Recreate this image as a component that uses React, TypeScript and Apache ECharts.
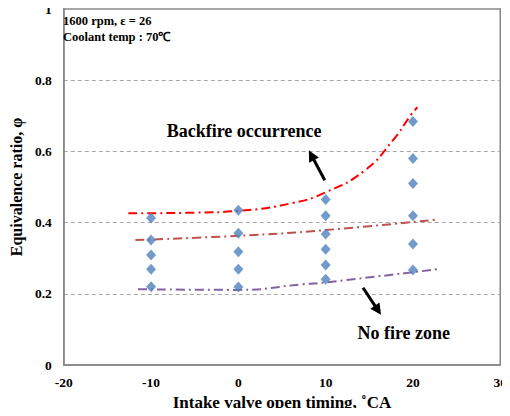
import React, { useEffect, useRef } from "react";
import * as echarts from "echarts";

const xTicks = { min: -20, max: 30, interval: 10 };
const yTicks = { min: 0, max: 1, interval: 0.2 };

const measuredPoints: [number, number][] = [
  [-10, 0.413], [-10, 0.351], [-10, 0.309], [-10, 0.269], [-10, 0.22],
  [0, 0.435], [0, 0.37], [0, 0.318], [0, 0.269], [0, 0.219],
  [10, 0.465], [10, 0.419], [10, 0.368], [10, 0.325], [10, 0.281], [10, 0.241],
  [20, 0.684], [20, 0.58], [20, 0.51], [20, 0.419], [20, 0.34], [20, 0.267],
];

const backfireLimit: [number, number][] = [
  [-12.6, 0.426], [-5, 0.428], [0, 0.433], [6.2, 0.455], [10, 0.485],
  [14.5, 0.547], [17.7, 0.631], [19.7, 0.7], [20.5, 0.724],
];
const middleLimit: [number, number][] = [
  [-11.8, 0.351], [0, 0.363], [10, 0.379], [22.9, 0.409],
];
const noFireLimit: [number, number][] = [
  [-11.5, 0.213], [0, 0.211], [7.5, 0.227], [10, 0.232], [22.8, 0.269],
];

const conditionText = ["1600 rpm, ε = 26", "Coolant temp : 70℃"];
const backfireLabel = { text: "Backfire occurrence", at: [0.65, 0.657] };
const backfireArrow = { from: [9.9, 0.519], to: [8.07, 0.603] };
const noFireLabel = { text: "No fire zone", at: [18.94, 0.091] };
const noFireArrow = { from: [14.28, 0.217], to: [16.34, 0.141] };

const FONT = "Liberation Serif";

function arrowGraphics(p1: number[], p2: number[]) {
  const dx = p2[0] - p1[0];
  const dy = p2[1] - p1[1];
  const len = Math.sqrt(dx * dx + dy * dy);
  const ux = dx / len;
  const uy = dy / len;
  const headLen = 11;
  const headW = 5.5;
  const bx = p2[0] - ux * headLen;
  const by = p2[1] - uy * headLen;
  return [
    {
      type: "line",
      shape: { x1: p1[0], y1: p1[1], x2: bx + ux * 2, y2: by + uy * 2 },
      style: { stroke: "#000", lineWidth: 3 },
      z: 100,
    },
    {
      type: "polygon",
      shape: {
        points: [
          [p2[0], p2[1]],
          [bx - uy * headW, by + ux * headW],
          [bx + uy * headW, by - ux * headW],
        ],
      },
      style: { fill: "#000" },
      z: 100,
    },
  ];
}

export default function App() {
  const ref = useRef<HTMLDivElement>(null);
  useEffect(() => {
    if (!ref.current) return;
    const chart = echarts.init(ref.current, undefined, { renderer: "svg" });
    const lineSeries = (data: [number, number][], color: string) => ({
      type: "line",
      data,
      smooth: true,
      showSymbol: false,
      symbol: "none",
      lineStyle: { color, width: 2, type: [9, 4, 2, 4] },
      z: 2,
    });
    const tickRich = {
      t: { fontFamily: FONT, fontWeight: "bold", fontSize: 13.5, color: "#000" },
    };
    chart.setOption({
      animation: false,
      textStyle: { fontFamily: FONT, fontWeight: "bold", color: "#000" },
      grid: {
        left: 58,
        right: 9,
        top: 9,
        bottom: 51,
        show: true,
        borderColor: "#888",
        borderWidth: 1.5,
      },
      xAxis: {
        type: "value",
        ...xTicks,
        name: "Intake valve open timing, ˚CA",
        nameLocation: "middle",
        nameGap: 28,
        nameTextStyle: { fontFamily: FONT, fontWeight: "bold", fontSize: 17, color: "#000" },
        axisLine: { show: true, onZero: false, lineStyle: { color: "#888", width: 1.5 } },
        axisTick: { show: false },
        splitLine: { show: false },
        axisLabel: {
          margin: 10,
          formatter: (v: number) => `{t|${v}}`,
          rich: tickRich,
        },
      },
      yAxis: {
        type: "value",
        ...yTicks,
        name: "Equivalence ratio, φ",
        nameLocation: "middle",
        nameGap: 36,
        nameTextStyle: { fontFamily: FONT, fontWeight: "bold", fontSize: 16, color: "#000" },
        axisLine: { show: true, onZero: false, lineStyle: { color: "#888", width: 1.5 } },
        axisTick: { show: false },
        splitLine: {
          show: true,
          showMinLine: false,
          showMaxLine: false,
          lineStyle: { color: "#a6a6a6", type: [4, 3], width: 1 },
        },
        axisLabel: {
          margin: 12,
          formatter: (v: number) => `{t|${Math.round(v * 10) / 10}}`,
          rich: tickRich,
        },
      },
      series: [
        lineSeries(backfireLimit, "#ff0000"),
        lineSeries(middleLimit, "#c0504d"),
        lineSeries(noFireLimit, "#8064a2"),
        {
          type: "scatter",
          data: measuredPoints,
          symbol: "diamond",
          symbolSize: [10, 11],
          itemStyle: { color: "#4f81bd" },
          z: 3,
        },
      ],
    });
    const px = (p: number[]) => chart.convertToPixel({ gridIndex: 0 }, p) as number[];
    const bl = px(backfireLabel.at);
    const nl = px(noFireLabel.at);
    chart.setOption({
      graphic: [
        {
          type: "text",
          x: 63,
          y: 13,
          style: {
            text: conditionText.join("\n"),
            font: `bold 12.5px ${FONT}`,
            fill: "#000",
            lineHeight: 16,
          },
          z: 100,
        },
        {
          type: "text",
          x: bl[0],
          y: bl[1],
          style: {
            text: backfireLabel.text,
            font: `bold 18px ${FONT}`,
            fill: "#000",
            textAlign: "center",
            textVerticalAlign: "middle",
          },
          z: 100,
        },
        {
          type: "text",
          x: nl[0],
          y: nl[1],
          style: {
            text: noFireLabel.text,
            font: `bold 18px ${FONT}`,
            fill: "#000",
            textAlign: "center",
            textVerticalAlign: "middle",
          },
          z: 100,
        },
        ...arrowGraphics(px(backfireArrow.from), px(backfireArrow.to)),
        ...arrowGraphics(px(noFireArrow.from), px(noFireArrow.to)),
      ],
    });
    return () => chart.dispose();
  }, []);
  return <div ref={ref} style={{ width: 510, height: 416, margin: -8 }} />;
}
